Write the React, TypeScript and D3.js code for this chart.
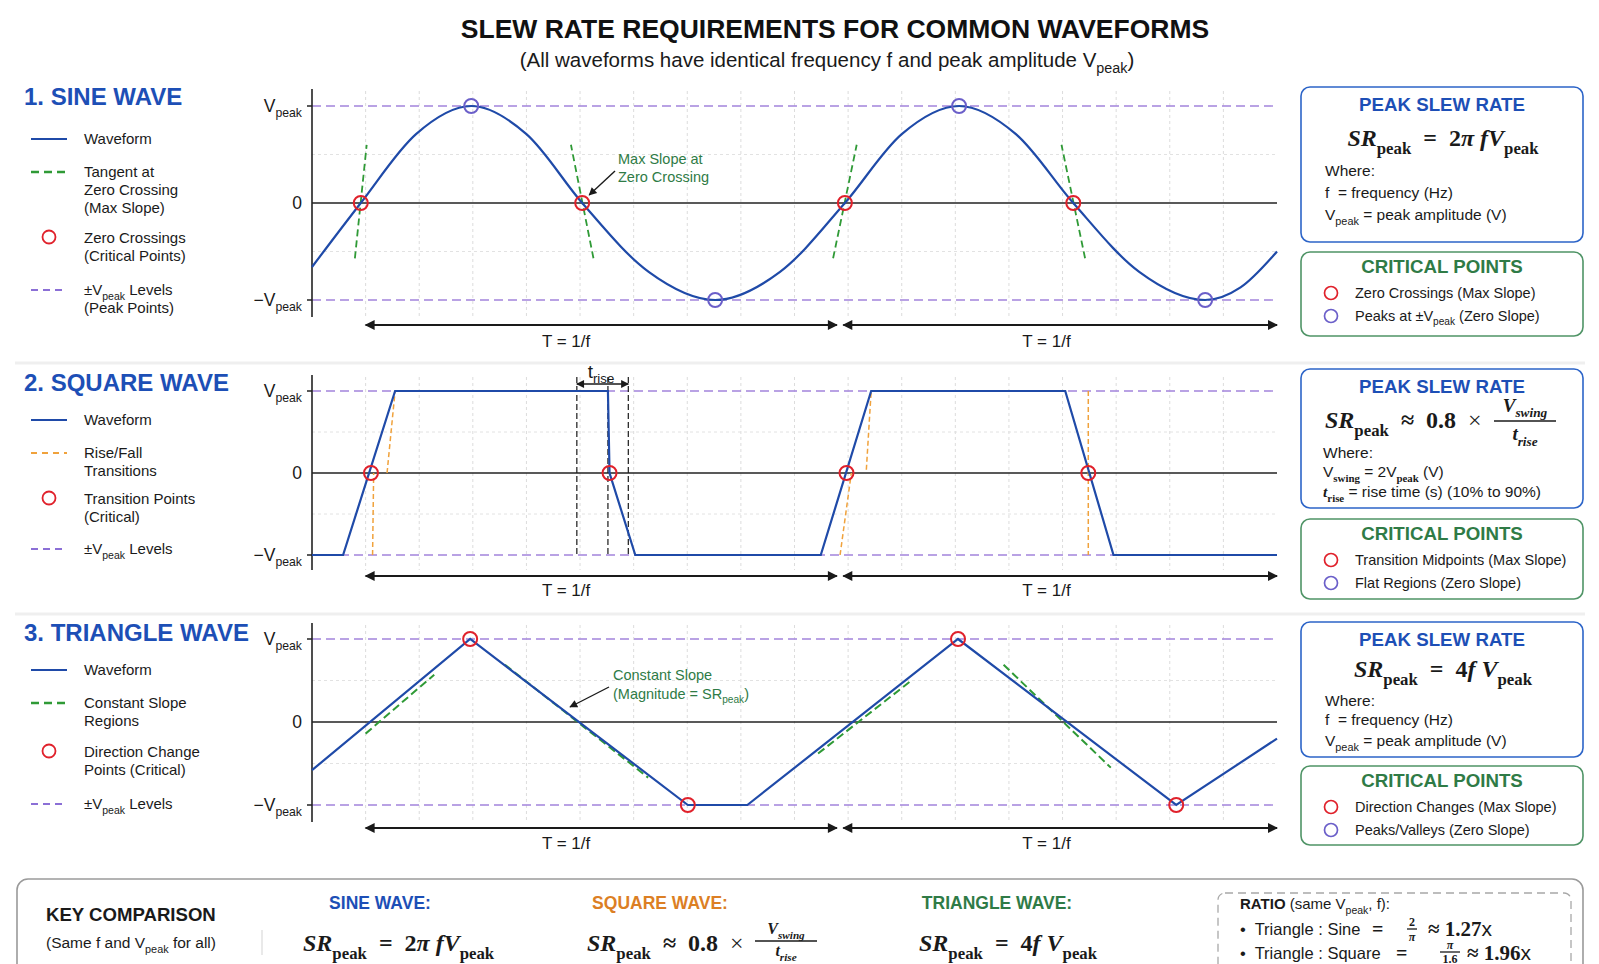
import React from 'react';
import * as d3 from 'd3';

const W = 1599;
const H = 964;
const SANS = "'Liberation Sans', Arial, Helvetica, sans-serif";
const SERIF = "'Liberation Serif', 'DejaVu Serif', serif";

const HEAD_BLUE = '#1d4fb6';
const WAVE = '#1f4aa8';
const GREEN = '#2f7b46';
const TAN = '#2f9a36';
const ORANGE = '#f0a23c';
const PURPLE = '#a384dc';
const RED = '#e0212b';
const PEAKC = '#6b5fc9';
const INK = '#1a1a1a';

// time in grid units (18 divisions per plot), amplitude in units of Vpeak
const gridTicks = d3.range(1, 18);
const periodSpans = [[1, 9.79], [9.91, 18]];
const periodLabelT = [4.74, 13.7];

// sine wave key points
const sineT = [0, 0.91, 1.94, 2.97, 4.0, 5.04, 6.28, 7.52, 8.73, 9.94, 11.0, 12.07, 13.13, 14.2, 15.43, 16.66, 17.32, 18];
const sineV = [-0.66, 0, 0.71, 1, 0.71, 0, -0.71, -1, -0.71, 0, 0.71, 1, 0.71, 0, -0.71, -1, -0.87, -0.5];
const sineTangentHalf = [0.11, 0.21, 0.22, 0.22];

// square wave with finite edges
const squareT = [0, 0.58, 1.55, 5.52, 5.55, 6.03, 9.49, 10.43, 14.05, 14.95, 18];
const squareV = [-1, -1, 1, 1, 0, -1, -1, 1, 1, -1, -1];
const squareCross = [1.1, 5.55, 9.97, 14.48];
const squareEdgeGuides = [
  [1.13, -1, 1.15, 0],
  [1.4, 0, 1.55, 1],
  [9.85, -1, 10.06, 0],
  [10.34, 0.04, 10.43, 1],
  [14.48, 1, 14.48, -1],
];
const triseMarks = [4.94, 5.52, 5.9];

// triangle wave
const triT = [0, 2.95, 7.01, 8.12, 12.05, 16.12, 18];
const triV = [-0.58, 1, -1, -1, 1, -1, -0.2];
const triCritical = [2.95, 7.01, 12.05, 16.12];
const triSlopeGuides = [
  [1.0, -0.14, 2.28, 0.57],
  [3.6, 0.69, 6.27, -0.67],
  [9.44, -0.38, 11.16, 0.49],
  [12.9, 0.69, 14.9, -0.55],
];

const x = d3.scaleLinear().domain([0, 18]).range([312, 1277]);

const panels = [
  { top: 89, bottom: 317, vPeak: 106, vNeg: 300, arrowY: 325, labelY: 341 },
  { top: 375, bottom: 570, vPeak: 391, vNeg: 555, arrowY: 576, labelY: 590 },
  { top: 623, bottom: 822, vPeak: 639, vNeg: 805, arrowY: 828, labelY: 843 },
].map(p => ({ ...p, y: d3.scaleLinear().domain([-1, 1]).range([p.vNeg, p.vPeak]) }));

type Part = { t: string; sub?: boolean; i?: boolean; w?: number; f?: string };
const T = (t: string, o: Partial<Part> = {}): Part => ({ t, ...o });
const S = (t: string, o: Partial<Part> = {}): Part => ({ t, sub: true, ...o });
const VPEAK = [T('V'), S('peak')];

const Rich: React.FC<{
  x: number; cy: number; parts: Part[]; size: number;
  anchor?: string; fill?: string; family?: string; weight?: number; subScale?: number;
}> = ({ x, cy, parts, size, anchor = 'start', fill = INK, family = SANS, weight = 400, subScale = 0.7 }) => {
  let shifted = false;
  const off = size * 0.3;
  return (
    <text x={x} y={cy + size * 0.35} fontSize={size} fontFamily={family} fontWeight={weight}
      fill={fill} textAnchor={anchor as any} style={{ whiteSpace: 'pre' }}>
      {parts.map((p, k) => {
        let dy = 0;
        if (p.sub && !shifted) { dy = off; shifted = true; }
        else if (!p.sub && shifted) { dy = -off; shifted = false; }
        return (
          <tspan key={k} dy={dy} fontSize={p.sub ? size * subScale : undefined}
            fontStyle={p.i ? 'italic' : undefined} fontWeight={p.w} fontFamily={p.f}>{p.t}</tspan>
        );
      })}
    </text>
  );
};

const Frac: React.FC<{
  cx: number; cy: number; num: Part[]; den: Part[]; size: number; w: number; gapN?: number; gapD?: number;
}> = ({ cx, cy, num, den, size, w, gapN = 0.75, gapD = 0.7 }) => (
  <g>
    <Rich x={cx} cy={cy - size * gapN} parts={num} size={size} anchor="middle" family={SERIF} weight={700} />
    <line x1={cx - w / 2} x2={cx + w / 2} y1={cy} y2={cy} stroke={INK} strokeWidth={1.3} />
    <Rich x={cx} cy={cy + size * gapD} parts={den} size={size} anchor="middle" family={SERIF} weight={700} />
  </g>
);

const pts = (ts: number[], vs: number[]) => ts.map((t, i) => [t, vs[i]] as [number, number]);

const Frame: React.FC<{ p: typeof panels[0] }> = ({ p }) => {
  const y = p.y;
  return (
    <g>
      {gridTicks.map(t => (
        <line key={t} x1={x(t)} x2={x(t)} y1={p.top + 2} y2={p.bottom} stroke="#dcdcdc" strokeDasharray="3,3" />
      ))}
      {[-0.5, 0.5].map(v => (
        <line key={v} x1={x(0)} x2={x(18)} y1={y(v)} y2={y(v)} stroke="#e2e2e2" strokeDasharray="3,3" />
      ))}
      {[-1, 1].map(v => (
        <line key={v} x1={x(0)} x2={x(18)} y1={y(v)} y2={y(v)} stroke={PURPLE} strokeWidth={1.4} strokeDasharray="9,5" />
      ))}
      <line x1={x(0)} x2={x(18)} y1={y(0)} y2={y(0)} stroke="#222" strokeWidth={1.6} />
      <line x1={x(0)} x2={x(0)} y1={p.top} y2={p.bottom} stroke="#222" strokeWidth={1.6} />
      {[-1, 1].map(v => (
        <line key={v} x1={x(0) - 5} x2={x(0)} y1={y(v)} y2={y(v)} stroke="#222" strokeWidth={1.5} />
      ))}
      <Rich x={302} cy={y(1)} parts={VPEAK} size={17.5} anchor="end" />
      <Rich x={302} cy={y(0)} parts={[T('0')]} size={17.5} anchor="end" />
      <Rich x={302} cy={y(-1)} parts={[T('\u2212V'), S('peak')]} size={17.5} anchor="end" />
      {periodSpans.map(([a, b], k) => (
        <g key={k}>
          <line x1={x(a)} x2={x(b)} y1={p.arrowY} y2={p.arrowY} stroke={INK} strokeWidth={2}
            markerStart="url(#arr)" markerEnd="url(#arr)" />
          <text x={x(periodLabelT[k])} y={p.labelY + 6} fontSize={17} fontFamily={SANS} fill={INK} textAnchor="middle">T = 1/f</text>
        </g>
      ))}
    </g>
  );
};

const legendItems = [
  [
    { kind: 'wave', lines: [[T('Waveform')]] },
    { kind: 'tangent', lines: [[T('Tangent at')], [T('Zero Crossing')], [T('(Max Slope)')]] },
    { kind: 'circle', lines: [[T('Zero Crossings')], [T('(Critical Points)')]] },
    { kind: 'level', lines: [[T('\u00b1V'), S('peak'), T(' Levels')], [T('(Peak Points)')]] },
  ],
  [
    { kind: 'wave', lines: [[T('Waveform')]] },
    { kind: 'edge', lines: [[T('Rise/Fall')], [T('Transitions')]] },
    { kind: 'circle', lines: [[T('Transition Points')], [T('(Critical)')]] },
    { kind: 'level', lines: [[T('\u00b1V'), S('peak'), T(' Levels')]] },
  ],
  [
    { kind: 'wave', lines: [[T('Waveform')]] },
    { kind: 'tangent', lines: [[T('Constant Slope')], [T('Regions')]] },
    { kind: 'circle', lines: [[T('Direction Change')], [T('Points (Critical)')]] },
    { kind: 'level', lines: [[T('\u00b1V'), S('peak'), T(' Levels')]] },
  ],
];
const legendY = [[139, 172, 238, 290], [420, 453, 499, 549], [670, 703, 752, 804]];
const headings = ['1. SINE WAVE', '2. SQUARE WAVE', '3. TRIANGLE WAVE'];
const headingY = [96, 382, 632];

const Legend: React.FC<{ k: number }> = ({ k }) => (
  <g>
    <text x={24} y={headingY[k] + 8.5} fontSize={24} fontWeight={700} fontFamily={SANS} fill={HEAD_BLUE}>{headings[k]}</text>
    {legendItems[k].map((it, j) => {
      const cy = legendY[k][j];
      let sample: React.ReactNode = null;
      if (it.kind === 'wave') sample = <line x1={31} x2={67} y1={cy} y2={cy} stroke={WAVE} strokeWidth={2.2} />;
      if (it.kind === 'tangent') sample = <line x1={31} x2={67} y1={cy} y2={cy} stroke={TAN} strokeWidth={2.6} strokeDasharray="8,5" />;
      if (it.kind === 'edge') sample = <line x1={31} x2={67} y1={cy} y2={cy} stroke={ORANGE} strokeWidth={2.2} strokeDasharray="6,5" />;
      if (it.kind === 'level') sample = <line x1={31} x2={67} y1={cy} y2={cy} stroke="#8b6fd6" strokeWidth={2} strokeDasharray="7,5" />;
      if (it.kind === 'circle') sample = <circle cx={49} cy={cy - 1} r={6.5} fill="none" stroke={RED} strokeWidth={1.8} />;
      return (
        <g key={j}>
          {sample}
          {it.lines.map((ln, m) => <Rich key={m} x={84} cy={cy + m * 18} parts={ln} size={15} />)}
        </g>
      );
    })}
  </g>
);

const boxes = [
  { blue: [87, 155], green: [252, 84] },
  { blue: [369, 139], green: [519, 80] },
  { blue: [622, 135], green: [766, 79] },
];
const criticalItems = [
  [[T('Zero Crossings (Max Slope)')], [T('Peaks at \u00b1V'), S('peak'), T(' (Zero Slope)')]],
  [[T('Transition Midpoints (Max Slope)')], [T('Flat Regions (Zero Slope)')]],
  [[T('Direction Changes (Max Slope)')], [T('Peaks/Valleys (Zero Slope)')]],
];

const SR: Part[] = [T('SR', { i: true }), S('peak')];
const SINE_SR: Part[] = [...SR, T('  =  2'), T('\u03c0', { i: true }), T(' f', { i: true }), T('V', { i: true }), S('peak')];
const TRI_SR: Part[] = [...SR, T('  =  4'), T('f', { i: true }), T(' V', { i: true }), S('peak')];
const SQ_SR: Part[] = [...SR, T('  \u2248  0.8  '), T('\u00d7', { w: 400 })];
const SWING: Part[] = [T('V', { i: true }), S('swing', { i: true })];
const RISE: Part[] = [T('t', { i: true }), S('rise', { i: true })];

const SideBoxes: React.FC<{ k: number }> = ({ k }) => {
  const b = boxes[k];
  const bt = b.blue[0];
  const gt = b.green[0];
  return (
    <g>
      <rect x={1301} y={bt} width={282} height={b.blue[1]} rx={9} fill="#fff" stroke="#2c64c8" strokeWidth={1.6} />
      <text x={1442} y={bt + 23.5} fontSize={18.7} fontWeight={700} fontFamily={SANS} fill={HEAD_BLUE} textAnchor="middle">PEAK SLEW RATE</text>
      {k === 0 && (
        <g>
          <Rich x={1443} cy={bt + 51} size={24} anchor="middle" family={SERIF} weight={700} parts={SINE_SR} />
          <Rich x={1325} cy={bt + 84} size={15.5} parts={[T('Where:')]} />
          <Rich x={1325} cy={bt + 106} size={15.5} parts={[T('f  = frequency (Hz)')]} />
          <Rich x={1325} cy={bt + 128} size={15.5} parts={[...VPEAK, T(' = peak amplitude (V)')]} />
        </g>
      )}
      {k === 1 && (
        <g>
          <Rich x={1325} cy={bt + 51} size={24} family={SERIF} weight={700} parts={SQ_SR} />
          <Frac cx={1525} cy={bt + 52} size={19} w={62} num={SWING} den={RISE} gapN={0.85} gapD={0.65} />
          <Rich x={1323} cy={bt + 84} size={15.5} parts={[T('Where:')]} />
          <Rich x={1323} cy={bt + 103} size={15.5}
            parts={[T('V'), S('swing', { f: SERIF, w: 700 }), T(' = 2V'), S('peak', { f: SERIF, w: 700 }), T(' (V)')]} />
          <Rich x={1323} cy={bt + 123} size={15.5}
            parts={[T('t', { f: SERIF, i: true, w: 700 }), S('rise', { f: SERIF, w: 700 }), T(' = rise time (s) (10% to 90%)')]} />
        </g>
      )}
      {k === 2 && (
        <g>
          <Rich x={1443} cy={bt + 47} size={24} anchor="middle" family={SERIF} weight={700} parts={TRI_SR} />
          <Rich x={1325} cy={bt + 79} size={15.5} parts={[T('Where:')]} />
          <Rich x={1325} cy={bt + 98} size={15.5} parts={[T('f  = frequency (Hz)')]} />
          <Rich x={1325} cy={bt + 119} size={15.5} parts={[...VPEAK, T(' = peak amplitude (V)')]} />
        </g>
      )}
      <rect x={1301} y={gt} width={282} height={b.green[1]} rx={9} fill="#fff" stroke="#4f9466" strokeWidth={1.6} />
      <text x={1442} y={gt + 20.5} fontSize={18.7} fontWeight={700} fontFamily={SANS} fill={GREEN} textAnchor="middle">CRITICAL POINTS</text>
      {criticalItems[k].map((ln, j) => (
        <g key={j}>
          <circle cx={1331} cy={gt + 41 + j * 23} r={6.5} fill="none" stroke={j === 0 ? RED : PEAKC} strokeWidth={1.7} />
          <Rich x={1355} cy={gt + 41 + j * 23} size={14.5} parts={ln} />
        </g>
      ))}
    </g>
  );
};

const SinePanel = () => {
  const p = panels[0];
  const y = p.y;
  const data = pts(sineT, sineV);
  const line = d3.line().x(d => x(d[0])).y(d => y(d[1])).curve(d3.curveMonotoneX);
  const crossings = data.map((d, i) => ({ d, i })).filter(o => o.d[1] === 0 && o.i > 0);
  const peaks = data.filter(d => Math.abs(d[1]) === 1);
  return (
    <g>
      <Frame p={p} />
      {crossings.map((o, k) => {
        const dir = sineV[o.i + 1] > 0 ? 1 : -1;
        const hw = sineTangentHalf[k];
        return (
          <line key={k} x1={x(o.d[0] - dir * hw)} y1={y(-0.57)} x2={x(o.d[0] + dir * hw)} y2={y(0.6)}
            stroke={TAN} strokeWidth={1.8} strokeDasharray="7,4" />
        );
      })}
      <path d={line(data) || ''} fill="none" stroke={WAVE} strokeWidth={2.2} />
      {crossings.map((o, k) => (
        <circle key={k} cx={x(o.d[0])} cy={y(0)} r={7} fill="none" stroke={RED} strokeWidth={2} />
      ))}
      {peaks.map((d, k) => (
        <circle key={k} cx={x(d[0])} cy={y(d[1])} r={7} fill="none" stroke={PEAKC} strokeWidth={2} />
      ))}
      <Rich x={618} cy={159} size={14.5} fill={GREEN} parts={[T('Max Slope at')]} />
      <Rich x={618} cy={177} size={14.5} fill={GREEN} parts={[T('Zero Crossing')]} />
      <line x1={615} y1={171} x2={x(sineT[5]) + 7} y2={y(0) - 8} stroke={INK} strokeWidth={1.4} markerEnd="url(#arrSmall)" />
    </g>
  );
};

const SquarePanel = () => {
  const p = panels[1];
  const y = p.y;
  const line = d3.line().x(d => x(d[0])).y(d => y(d[1]));
  return (
    <g>
      <Frame p={p} />
      {triseMarks.map(t => (
        <line key={t} x1={x(t)} x2={x(t)} y1={377} y2={557} stroke={INK} strokeWidth={1.2} strokeDasharray="6,3" />
      ))}
      {squareEdgeGuides.map((g, k) => (
        <line key={k} x1={x(g[0])} y1={y(g[1])} x2={x(g[2])} y2={y(g[3])} stroke={ORANGE} strokeWidth={1.5} strokeDasharray="5,3" />
      ))}
      <path d={line(pts(squareT, squareV)) || ''} fill="none" stroke={WAVE} strokeWidth={2.2} />
      {squareCross.map(t => (
        <circle key={t} cx={x(t)} cy={y(0)} r={7} fill="none" stroke={RED} strokeWidth={2} />
      ))}
      <line x1={x(triseMarks[0])} x2={x(triseMarks[2])} y1={384} y2={384} stroke={INK} strokeWidth={1.6}
        markerStart="url(#arrSmall)" markerEnd="url(#arrSmall)" />
      <Rich x={601} cy={371} size={19} anchor="middle" parts={[T('t'), S('rise')]} />
    </g>
  );
};

const TrianglePanel = () => {
  const p = panels[2];
  const y = p.y;
  const line = d3.line().x(d => x(d[0])).y(d => y(d[1]));
  const crit = triCritical.map(t => [t, triV[triT.indexOf(t)]]);
  return (
    <g>
      <Frame p={p} />
      {triSlopeGuides.map((g, k) => (
        <line key={k} x1={x(g[0])} y1={y(g[1])} x2={x(g[2])} y2={y(g[3])} stroke={TAN} strokeWidth={2} strokeDasharray="8,4" />
      ))}
      <path d={line(pts(triT, triV)) || ''} fill="none" stroke={WAVE} strokeWidth={2.2} />
      {crit.map(d => (
        <circle key={d[0]} cx={x(d[0])} cy={y(d[1])} r={7} fill="none" stroke={RED} strokeWidth={2} />
      ))}
      <Rich x={613} cy={675} size={14.5} fill={GREEN} parts={[T('Constant Slope')]} />
      <Rich x={613} cy={694} size={14.5} fill={GREEN} parts={[T('(Magnitude = SR'), S('peak'), T(')')]} />
      <line x1={609} y1={687} x2={570} y2={707} stroke={INK} strokeWidth={1.4} markerEnd="url(#arrSmall)" />
    </g>
  );
};

const Comparison = () => (
  <g>
    <rect x={17} y={879} width={1566} height={140} rx={11} fill="#fff" stroke="#9a9a9a" strokeWidth={1.6} />
    <text x={46} y={921} fontSize={18.6} fontWeight={700} fontFamily={SANS} fill={INK}>KEY COMPARISON</text>
    <Rich x={46} cy={943} size={15.5} parts={[T('(Same f and V'), S('peak'), T(' for all)')]} />
    <line x1={262} x2={262} y1={930} y2={955} stroke="#e2e2e2" strokeWidth={1.5} />

    <text x={380} y={909} fontSize={17.5} fontWeight={700} fontFamily={SANS} fill={HEAD_BLUE} textAnchor="middle">SINE WAVE:</text>
    <Rich x={303} cy={943} size={24} family={SERIF} weight={700} parts={SINE_SR} />

    <text x={660} y={909} fontSize={17.5} fontWeight={700} fontFamily={SANS} fill="#dc7f24" textAnchor="middle">SQUARE WAVE:</text>
    <Rich x={587} cy={943} size={24} family={SERIF} weight={700} parts={SQ_SR} />
    <Frac cx={786} cy={941} size={16} w={62} num={SWING} den={RISE} gapN={0.8} gapD={0.6} />

    <text x={997} y={909} fontSize={17.5} fontWeight={700} fontFamily={SANS} fill={GREEN} textAnchor="middle">TRIANGLE WAVE:</text>
    <Rich x={919} cy={943} size={24} family={SERIF} weight={700} parts={TRI_SR} />

    <rect x={1218} y={893} width={353} height={120} rx={7} fill="#fff" stroke="#a8a8a8" strokeWidth={1.3} strokeDasharray="8,5" />
    <Rich x={1240} cy={904} size={15} parts={[T('RATIO', { w: 700 }), T(' (same V'), S('peak'), T(', f):')]} />
    <Rich x={1240} cy={929} size={16.5} parts={[T('\u2022  Triangle : Sine')]} />
    <Rich x={1372} cy={929} size={20} family={SERIF} weight={700} parts={[T('=')]} />
    <Frac cx={1412} cy={929} size={12} w={10} num={[T('2')]} den={[T('\u03c0', { i: true })]} gapN={0.62} gapD={0.62} />
    <Rich x={1428} cy={929} size={21} family={SERIF} weight={700} parts={[T('\u2248 1.27'), T('x', { f: SANS, w: 400 })]} />
    <Rich x={1240} cy={953} size={16.5} parts={[T('\u2022  Triangle : Square')]} />
    <Rich x={1396} cy={953} size={20} family={SERIF} weight={700} parts={[T('=')]} />
    <Frac cx={1450} cy={952} size={12} w={20} num={[T('\u03c0', { i: true })]} den={[T('1.6')]} gapN={0.6} gapD={0.55} />
    <Rich x={1467} cy={953} size={21} family={SERIF} weight={700} parts={[T('\u2248 1.96'), T('x', { f: SANS, w: 400 })]} />
  </g>
);

export default function App() {
  return (
    <div style={{ position: 'absolute', left: 0, top: 0 }}>
      <svg width={W} height={H} viewBox={`0 0 ${W} ${H}`} style={{ display: 'block', background: '#fff' }}>
        <defs>
          <marker id="arr" viewBox="0 0 10 10" refX={9} refY={5} markerWidth={13} markerHeight={10}
            markerUnits="userSpaceOnUse" orient="auto-start-reverse">
            <path d="M0,0 L10,5 L0,10 z" fill={INK} />
          </marker>
          <marker id="arrSmall" viewBox="0 0 10 10" refX={9} refY={5} markerWidth={10} markerHeight={8}
            markerUnits="userSpaceOnUse" orient="auto-start-reverse">
            <path d="M0,0 L10,5 L0,10 z" fill={INK} />
          </marker>
        </defs>
        <rect width={W} height={H} fill="#fff" />
        <text x={835} y={38} fontSize={26.5} fontWeight={700} fontFamily={SANS} fill="#111" textAnchor="middle">
          SLEW RATE REQUIREMENTS FOR COMMON WAVEFORMS
        </text>
        <Rich x={827} cy={60} size={20.5} anchor="middle"
          parts={[T('(All waveforms have identical frequency f and peak amplitude V'), S('peak'), T(')')]} />
        <line x1={15} x2={1585} y1={363} y2={363} stroke="#efefef" strokeWidth={3} />
        <line x1={15} x2={1585} y1={614} y2={614} stroke="#efefef" strokeWidth={3} />
        {[0, 1, 2].map(k => <Legend key={k} k={k} />)}
        <SinePanel />
        <SquarePanel />
        <TrianglePanel />
        {[0, 1, 2].map(k => <SideBoxes key={k} k={k} />)}
        <Comparison />
      </svg>
    </div>
  );
}
